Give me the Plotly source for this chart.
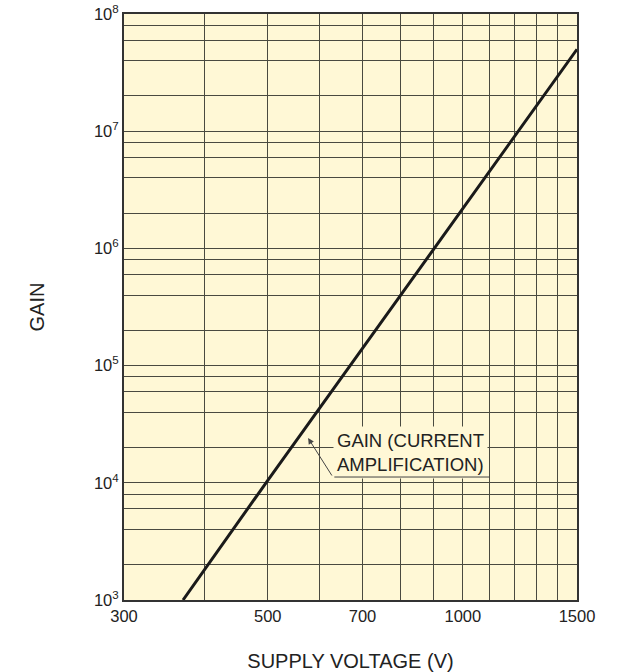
import math
import plotly.graph_objects as go

# Gain (current amplification) versus supply voltage, log-log
supply_voltage = [370, 500, 700, 1000, 1500]
gain = [1e3, 1.05e4, 1.4e5, 2.2e6, 5e7]

# Axis ticks and labels
x_tick_vals = [300, 500, 700, 1000, 1500]
x_tick_text = ["300", "500", "700", "1000", "1500"]
x_grid_vals = [400, 500, 600, 700, 800, 900, 1000, 1100, 1200, 1300, 1400]
y_tick_vals = [1e3, 1e4, 1e5, 1e6, 1e7, 1e8]
y_tick_text = ["10<sup>3</sup>", "10<sup>4</sup>", "10<sup>5</sup>",
               "10<sup>6</sup>", "10<sup>7</sup>", "10<sup>8</sup>"]
y_grid_vals = [m * 10 ** e for e in range(3, 8) for m in (1, 2, 4, 6, 8)]

# Callout leader (tip -> elbow -> end of underline)
leader_x = [577, 630, 1101]
leader_y = [2.41e4, 1.12e4, 1.12e4]
callout_x, callout_y = 630, 3.05e4

BG = "#FFF8D6"
GRID = "#4a4a40"
LEADER = "#444444"
FONT = "Liberation Sans, Arial, Helvetica, sans-serif"

lx = [math.log10(v) for v in leader_x]
ly = [math.log10(v) for v in leader_y]

fig = go.Figure()

fig.add_trace(go.Scatter(
    x=supply_voltage, y=gain, mode="lines",
    line=dict(color="#1a1a1a", width=3), showlegend=False,
))

# Callout text (annotations on log axes take log10 positions)
fig.add_annotation(
    x=math.log10(callout_x), y=math.log10(callout_y), xref="x", yref="y",
    xanchor="left", yanchor="top", align="left",
    text="GAIN (CURRENT<br>AMPLIFICATION)", showarrow=False,
    bgcolor=BG, borderpad=3,
    font=dict(family=FONT, size=18.5, color="#222222"),
)
# Diagonal leader with arrowhead at the curve
fig.add_annotation(
    x=lx[0], y=ly[0], ax=lx[1], ay=ly[1],
    xref="x", yref="y", axref="x", ayref="y",
    text="", showarrow=True, arrowhead=2, arrowsize=1.2,
    arrowwidth=1, arrowcolor=LEADER,
)
# Underline beneath the callout text
fig.add_annotation(
    x=lx[2], y=ly[2], ax=lx[1], ay=ly[1],
    xref="x", yref="y", axref="x", ayref="y",
    text="", showarrow=True, arrowhead=0,
    arrowwidth=1, arrowcolor=LEADER,
)

fig.update_xaxes(
    type="log", range=[math.log10(300), math.log10(1500)],
    tickmode="array", tickvals=x_tick_vals, ticktext=x_tick_text,
    ticks="", showgrid=False, zeroline=False, automargin=False,
    minor=dict(tickmode="array", tickvals=x_grid_vals, showgrid=True,
               gridcolor=GRID, gridwidth=1, ticks=""),
    showline=True, mirror=True, linecolor="#333333", linewidth=2,
    tickfont=dict(family=FONT, size=16.5, color="#222222"),
    title=dict(text="SUPPLY VOLTAGE (V)", standoff=30,
               font=dict(family=FONT, size=20, color="#222222")),
)
fig.update_yaxes(
    type="log", range=[3, 8],
    tickmode="array", tickvals=y_tick_vals, ticktext=y_tick_text,
    ticks="", showgrid=False, zeroline=False, automargin=False,
    minor=dict(tickmode="array", tickvals=y_grid_vals, showgrid=True,
               gridcolor=GRID, gridwidth=1, ticks=""),
    showline=True, mirror=True, linecolor="#333333", linewidth=2,
    tickfont=dict(family=FONT, size=16.5, color="#222222"),
    title=dict(text="GAIN", standoff=44,
               font=dict(family=FONT, size=20, color="#222222")),
)

fig.update_layout(
    width=623, height=672,
    margin=dict(l=124, r=46, t=14, b=72),
    paper_bgcolor="white", plot_bgcolor=BG,
    showlegend=False,
)

fig.write_html("out.html")
